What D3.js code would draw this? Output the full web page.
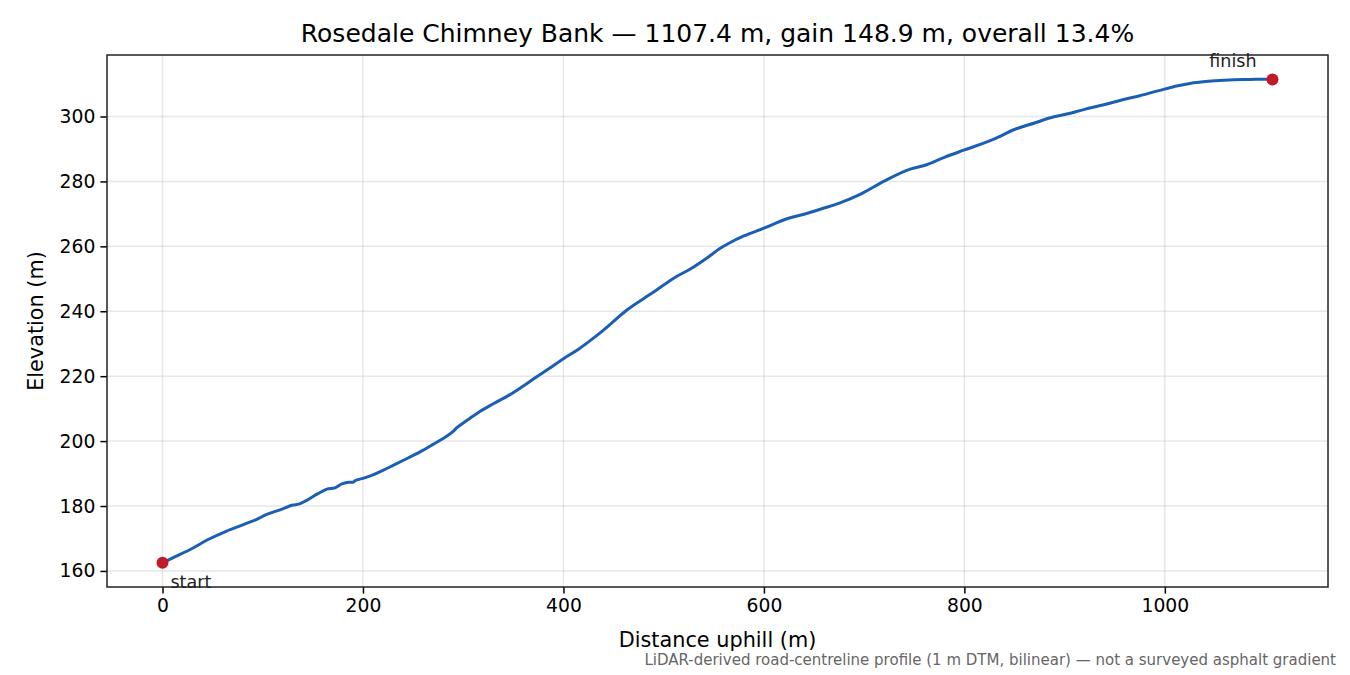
<!DOCTYPE html>
<html>
<head>
<meta charset="utf-8">
<script src="https://cdn.jsdelivr.net/npm/d3@7"></script>
<style>
  body { margin: 0; background: #fff; }
  svg { font-family: "DejaVu Sans", sans-serif; }
</style>
</head>
<body>
<div id="chart"></div>
<script>
// profil stoupání - vzdálenost (m) a nadmořská výška (m)
const distance = [0, 15, 30, 45, 64, 80, 94, 104, 118, 130, 136, 143, 155, 164, 172, 179, 186, 190, 192, 200,
  210, 220, 230, 245, 257, 270, 283, 290, 294, 300, 310, 317, 330, 345, 360, 370, 385, 400, 415, 423,
  440, 463, 490, 510, 527, 545, 556, 566, 580, 600, 623, 640, 660, 676, 696, 720, 746, 760, 780, 800,
  830, 850, 870, 886, 900, 920, 940, 956, 975, 993, 1013, 1025, 1036, 1050, 1069, 1085, 1101, 1107.4];
const elevation = [162.5, 164.7, 167.0, 169.6, 172.3, 174.2, 175.9, 177.4, 178.9, 180.3, 180.6, 181.6, 183.8, 185.2, 185.6, 186.8, 187.3, 187.3, 187.8, 188.5,
  189.6, 191.0, 192.5, 194.8, 196.7, 199.0, 201.4, 203.0, 204.2, 205.6, 207.7, 209.2, 211.5, 214.0, 217.0, 219.1, 222.2, 225.4, 228.3, 230.1,
  234.2, 240.3, 245.9, 250.2, 253.1, 256.8, 259.3, 261.1, 263.2, 265.6, 268.5, 269.9, 271.8, 273.4, 276.0, 280.1, 283.8, 284.9, 287.4, 289.7,
  293.1, 296.0, 298.0, 299.6, 300.6, 302.2, 303.7, 305.0, 306.4, 307.9, 309.5, 310.2, 310.6, 311.0, 311.3, 311.4, 311.5, 311.4];
const xTicks = [0, 200, 400, 600, 800, 1000];
const yTicks = [160, 180, 200, 220, 240, 260, 280, 300];
const titleText = "Rosedale Chimney Bank — 1107.4 m, gain 148.9 m, overall 13.4%";
const noteText = "LiDAR-derived road-centreline profile (1 m DTM, bilinear) — not a surveyed asphalt gradient";

const width = 1350, height = 675;
const margin = {left: 107, right: 22, top: 55, bottom: 88};

const points = distance.map((d, i) => ({x: d, y: elevation[i]}));

// okraje os jako v matplotlibu (5 %)
const xMin = d3.min(distance), xMax = d3.max(distance);
const yMin = d3.min(elevation), yMax = d3.max(elevation);
const xPad = (xMax - xMin) * 0.05, yPad = (yMax - yMin) * 0.05;

const X = d3.scaleLinear()
  .domain([xMin - xPad, xMax + xPad])
  .range([margin.left, width - margin.right]);
const Y = d3.scaleLinear()
  .domain([yMin - yPad, yMax + yPad])
  .range([height - margin.bottom, margin.top]);

const svg = d3.select("#chart")
  .append("svg")
  .attr("width", width)
  .attr("height", height);

// mřížka
svg.append("g")
  .selectAll("line")
  .data(xTicks)
  .join("line")
  .attr("x1", d => X(d)).attr("x2", d => X(d))
  .attr("y1", margin.top).attr("y2", height - margin.bottom)
  .attr("stroke", "#b0b0b0").attr("stroke-opacity", 0.3).attr("stroke-width", 1.5);
svg.append("g")
  .selectAll("line")
  .data(yTicks)
  .join("line")
  .attr("x1", margin.left).attr("x2", width - margin.right)
  .attr("y1", d => Y(d)).attr("y2", d => Y(d))
  .attr("stroke", "#b0b0b0").attr("stroke-opacity", 0.3).attr("stroke-width", 1.5);

// osy
const xAxis = svg.append("g")
  .attr("transform", `translate(0,${height - margin.bottom})`)
  .call(d3.axisBottom(X).tickValues(xTicks).tickSize(6.6).tickPadding(5).tickFormat(d3.format("d")));
const yAxis = svg.append("g")
  .attr("transform", `translate(${margin.left},0)`)
  .call(d3.axisLeft(Y).tickValues(yTicks).tickSize(6.6).tickPadding(5).tickFormat(d3.format("d")));

[xAxis, yAxis].forEach(a => {
  a.select(".domain").remove();
  a.selectAll(".tick line").attr("stroke", "#000").attr("stroke-width", 1.5);
  a.selectAll(".tick text")
    .attr("fill", "#000")
    .style("font-family", "DejaVu Sans")
    .style("font-size", "18.75px");
});

// rámeček
svg.append("rect")
  .attr("x", margin.left).attr("y", margin.top)
  .attr("width", width - margin.left - margin.right)
  .attr("height", height - margin.top - margin.bottom)
  .attr("fill", "none").attr("stroke", "#222").attr("stroke-width", 1.5);

// čára profilu
const line = d3.line()
  .x(d => X(d.x))
  .y(d => Y(d.y))
  .curve(d3.curveMonotoneX);

svg.append("path")
  .datum(points)
  .attr("d", line)
  .attr("fill", "none")
  .attr("stroke", "#1a5fb4")
  .attr("stroke-width", 3)
  .attr("stroke-linejoin", "round")
  .attr("stroke-linecap", "round");

// start a cíl
const ends = [points[0], points[points.length - 1]];
svg.append("g")
  .selectAll("circle")
  .data(ends)
  .join("circle")
  .attr("cx", d => X(d.x))
  .attr("cy", d => Y(d.y))
  .attr("r", 6)
  .attr("fill", "#c01c28");

svg.append("text")
  .attr("x", X(ends[0].x) + 8)
  .attr("y", Y(ends[0].y) + 25)
  .style("font-size", "17.5px")
  .attr("fill", "#222")
  .text("start");
svg.append("text")
  .attr("x", X(ends[1].x) - 16)
  .attr("y", Y(ends[1].y) - 13)
  .attr("text-anchor", "end")
  .style("font-size", "17.5px")
  .attr("fill", "#222")
  .text("finish");

// popisky
svg.append("text")
  .attr("x", (margin.left + width - margin.right) / 2)
  .attr("y", 42)
  .attr("text-anchor", "middle")
  .style("font-size", "25px")
  .text(titleText);
svg.append("text")
  .attr("x", (margin.left + width - margin.right) / 2)
  .attr("y", 647)
  .attr("text-anchor", "middle")
  .style("font-size", "20.8px")
  .text("Distance uphill (m)");
svg.append("text")
  .attr("transform", `translate(43,${(margin.top + height - margin.bottom) / 2}) rotate(-90)`)
  .attr("text-anchor", "middle")
  .style("font-size", "20.8px")
  .text("Elevation (m)");
svg.append("text")
  .attr("x", 1336)
  .attr("y", 665)
  .attr("text-anchor", "end")
  .style("font-size", "15px")
  .attr("fill", "#666")
  .text(noteText);
</script>
</body>
</html>
